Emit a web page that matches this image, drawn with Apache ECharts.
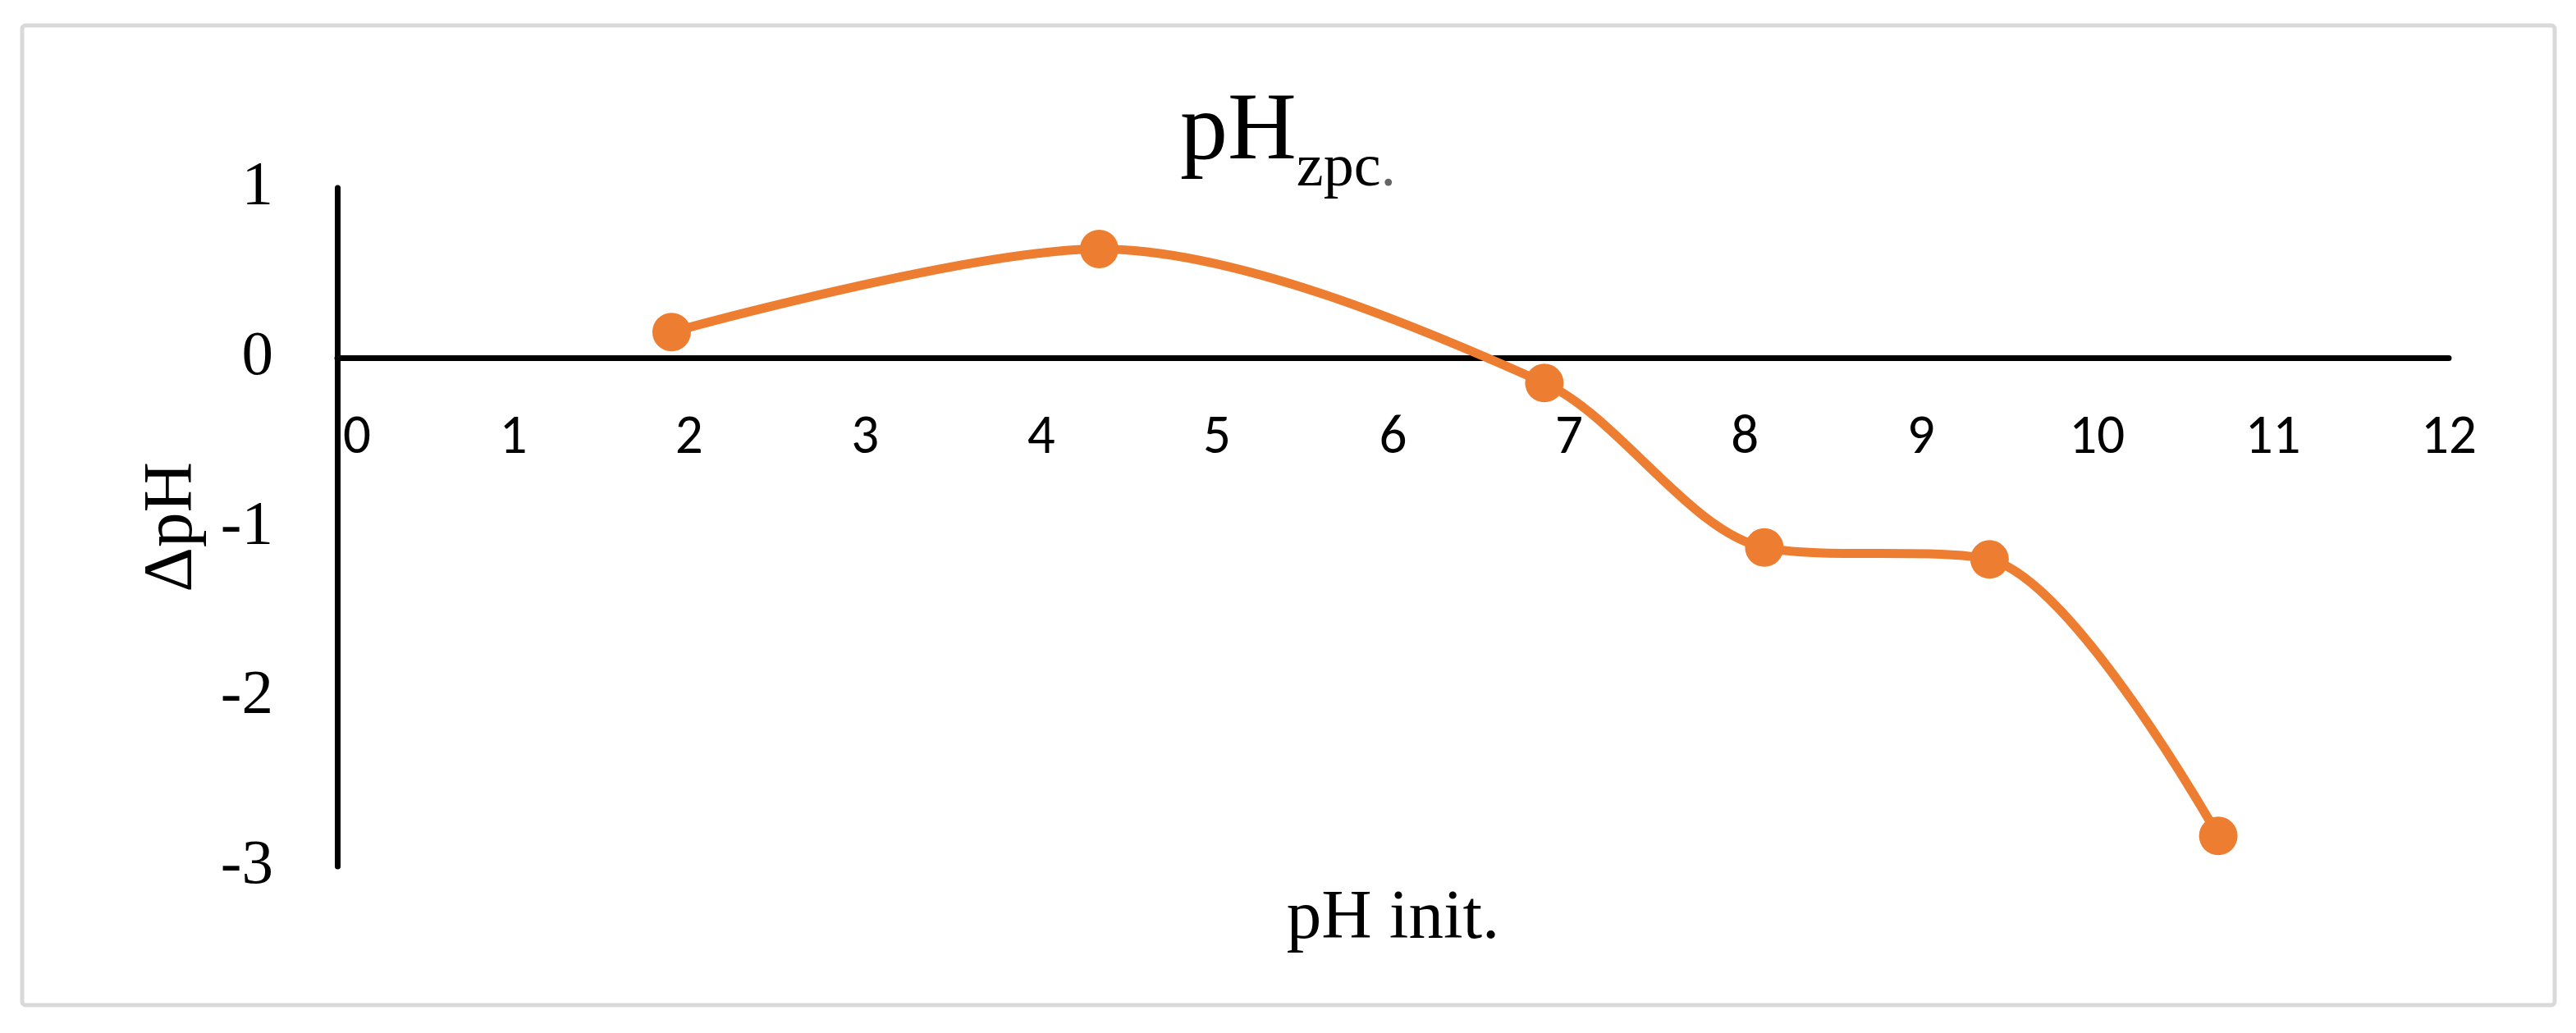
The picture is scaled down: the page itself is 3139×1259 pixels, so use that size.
<!DOCTYPE html>
<html>
<head>
<meta charset="utf-8">
<script src="https://cdn.jsdelivr.net/npm/echarts@6/dist/echarts.min.js"></script>
<style>
  html, body { margin: 0; padding: 0; background: #fff; }
  #chart { width: 3139px; height: 1259px; }
</style>
</head>
<body>
<div id="chart"></div>
<script>
// pH init. values and the measured delta pH
const phInit = [1.9, 4.33, 6.86, 8.11, 9.39, 10.69]
const deltaPh = [0.15, 0.64, -0.15, -1.12, -1.19, -2.82]

const xTicks = { min: 0, max: 12, interval: 1 }
const yTicks = { min: -3, max: 1, interval: 1 }

const orange = '#ED7D31'
const serif = '"Liberation Serif", "Times New Roman", serif'
const sans = 'Carlito, Lato, sans-serif'

const points = phInit.map((x, i) => [x, deltaPh[i]])

// plot box (px)
const plot = { left: 411, right: 155, top: 229, bottom: 203 }
const plotH = 1259 - plot.top - plot.bottom
// x axis sits at dPH = 0, so lift it from the bottom of the plot box
const xAxisLift = plotH * (0 - yTicks.min) / (yTicks.max - yTicks.min)

const chart = echarts.init(document.getElementById('chart'), null, { renderer: 'canvas' })

chart.setOption({
  animation: false,
  backgroundColor: '#fff',
  graphic: [
    {
      type: 'rect',
      shape: { x: 27, y: 31, width: 3086, height: 1194, r: 4 },
      style: { fill: 'none', stroke: '#d9d9d9', lineWidth: 5 },
    },
  ],
  title: {
    left: 'center',
    top: 105,
    padding: 0,
    text: '{a|pH}{b|zpc}{c|.}',
    textStyle: {
      fontWeight: 'normal',
      rich: {
        a: { fontFamily: serif, fontWeight: 'normal', fontSize: 116, lineHeight: 116, color: '#000', verticalAlign: 'top' },
        b: { fontFamily: serif, fontWeight: 'normal', fontSize: 74, lineHeight: 74, color: '#000', verticalAlign: 'top', padding: [65, 0, 0, 0] },
        c: { fontFamily: serif, fontWeight: 'normal', fontSize: 74, lineHeight: 74, color: '#666', verticalAlign: 'top', padding: [65, 0, 0, 0] },
      },
    },
  },
  grid: {
    ...plot,
    containLabel: false,
    outerBoundsMode: 'none',
  },
  xAxis: {
    type: 'value',
    position: 'bottom',
    offset: -xAxisLift,
    min: xTicks.min,
    max: xTicks.max,
    interval: xTicks.interval,
    name: 'pH init.',
    nameLocation: 'middle',
    nameGap: 642,
    nameTextStyle: { fontFamily: serif, fontSize: 85, color: '#000' },
    axisLine: { show: true, onZero: false, lineStyle: { color: '#000', width: 7 } },
    axisTick: { show: false },
    splitLine: { show: false },
    axisLabel: {
      margin: 66,
      fontFamily: sans,
      fontSize: 67,
      color: '#000',
      alignMinLabel: 'left',
      formatter: (v) => (v === xTicks.min ? '{first|' + v + '}' : String(v)),
      rich: {
        first: { fontFamily: sans, fontSize: 67, color: '#000', padding: [0, 0, 0, 7] },
      },
    },
  },
  yAxis: {
    type: 'value',
    min: yTicks.min,
    max: yTicks.max,
    interval: yTicks.interval,
    name: 'ΔpH',
    nameLocation: 'middle',
    nameRotate: 90,
    nameGap: 158,
    nameTextStyle: { fontFamily: serif, fontSize: 85, color: '#000' },
    axisLine: { show: true, onZero: false, lineStyle: { color: '#000', width: 7 } },
    axisTick: { show: false },
    splitLine: { show: false },
    axisLabel: {
      margin: 78,
      fontFamily: serif,
      fontSize: 77,
      color: '#000',
      showMinLabel: true,
      showMaxLabel: true,
    },
  },
  series: [
    {
      type: 'line',
      data: points,
      smooth: 0.3,
      symbol: 'circle',
      symbolSize: 47,
      lineStyle: { color: orange, width: 11 },
      itemStyle: { color: orange },
    },
  ],
})
</script>
</body>
</html>
